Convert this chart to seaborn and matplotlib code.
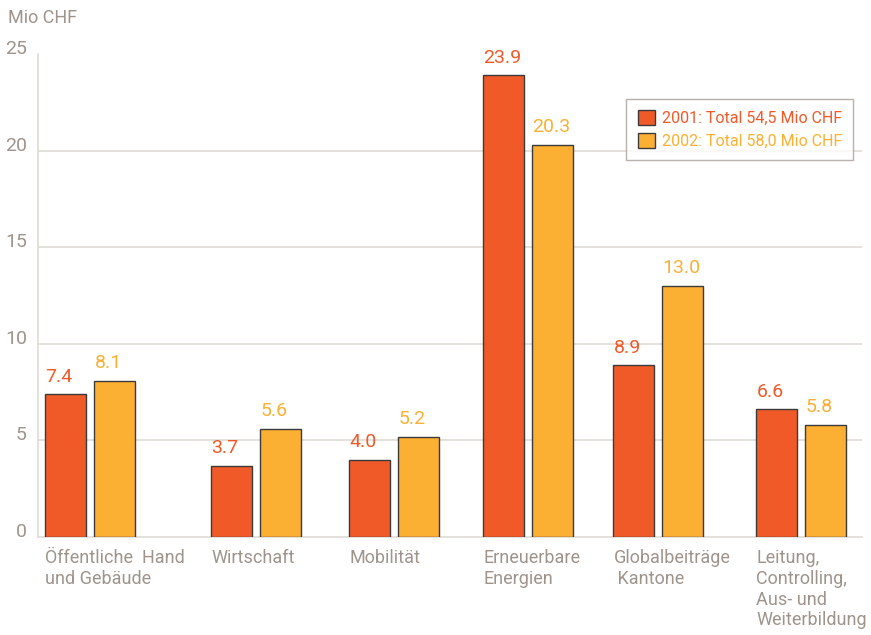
import pandas as pd
import matplotlib.pyplot as plt
import matplotlib.transforms as mtransforms
import seaborn as sns

# data
categories = ["Öffentliche  Hand\nund Gebäude", "Wirtschaft", "Mobilität",
              "Erneuerbare\nEnergien", "Globalbeiträge\n Kantone",
              "Leitung,\nControlling,\nAus- und\nWeiterbildung"]
values_2001 = [7.4, 3.7, 4.0, 23.9, 8.9, 6.6]
values_2002 = [8.1, 5.6, 5.2, 20.3, 13.0, 5.8]
series_labels = ["2001: Total 54,5 Mio CHF", "2002: Total 58,0 Mio CHF"]
y_ticks = [0, 5, 10, 15, 20, 25]

# layout: group centres (uneven spacing like the original)
group_pos = [90, 256, 394, 528, 658, 801]

RED = "#f05a28"
YELLOW = "#fbb033"
GREY_TXT = "#9e948c"
GREY_LINE = "#e2ddd8"

sns.set_style("white")
plt.rcParams['font.family'] = ['DejaVu Sans Condensed', 'Roboto', 'DejaVu Sans']

df = pd.DataFrame({
    "pos": group_pos * 2,
    "value": values_2001 + values_2002,
    "series": [series_labels[0]] * 6 + [series_labels[1]] * 6,
})

fig = plt.figure(figsize=(8.71, 6.35), dpi=100)
ax = fig.add_axes([38 / 871, 1 - 537 / 635, 824 / 871, 483 / 635])

sns.barplot(data=df, x="pos", y="value", hue="series", native_scale=True,
            palette=[RED, YELLOW], width=0.754, gap=0.18, dodge=True,
            edgecolor="#3a3a3a", linewidth=1, saturation=1, ax=ax,
            legend=True, zorder=3)

ax.set_xlim(38, 862)
ax.set_ylim(0, 25)
ax.set_yticks(y_ticks)
ax.set_yticklabels([str(t) for t in y_ticks], va="baseline")
ax.tick_params(axis="y", length=0, pad=8, labelsize=14, labelcolor=GREY_TXT)
ax.set_xticks([])
ax.set_xlabel("")
ax.set_ylabel("")
for t in y_ticks[1:-1]:
    ax.axhline(t, color=GREY_LINE, lw=1.3, zorder=1)

for side in ["top", "right"]:
    ax.spines[side].set_visible(False)
for side in ["left", "bottom"]:
    ax.spines[side].set_color(GREY_LINE)
    ax.spines[side].set_linewidth(1.3)

# value labels and category labels
bars = [p for p in ax.patches if p.get_height() > 0]
offset = mtransforms.offset_copy(ax.transData, fig=fig, x=0, y=9, units="points")
for p in bars:
    fc = p.get_facecolor()
    col = RED if fc[1] < 0.5 else YELLOW
    ax.text(p.get_x(), p.get_height(), f"{p.get_height():.1f}", transform=offset,
            ha="left", va="baseline", fontsize=14, color=col)

lefts = sorted(p.get_x() for p in bars)
group_lefts = lefts[0::2]
trans = mtransforms.blended_transform_factory(ax.transData, ax.transAxes)
for x0, lab in zip(group_lefts, categories):
    ax.text(x0, -0.025, lab, transform=trans, ha="left", va="top",
            fontsize=13, color=GREY_TXT, linespacing=1.2)

fig.text(8 / 871, 1 - 18 / 635, "Mio CHF", fontsize=13, color=GREY_TXT,
         ha="left", va="center")

leg = ax.legend(loc="upper right", bbox_to_anchor=(0.989, 0.907), frameon=True,
                fancybox=False, edgecolor="#a89f97", fontsize=11.5,
                handlelength=1.1, handleheight=1.1, handletextpad=0.4,
                borderpad=0.7, labelspacing=0.4, borderaxespad=0)
leg.get_frame().set_linewidth(1)
for txt, col in zip(leg.get_texts(), [RED, YELLOW]):
    txt.set_color(col)

fig.savefig("out.png", dpi=100)
